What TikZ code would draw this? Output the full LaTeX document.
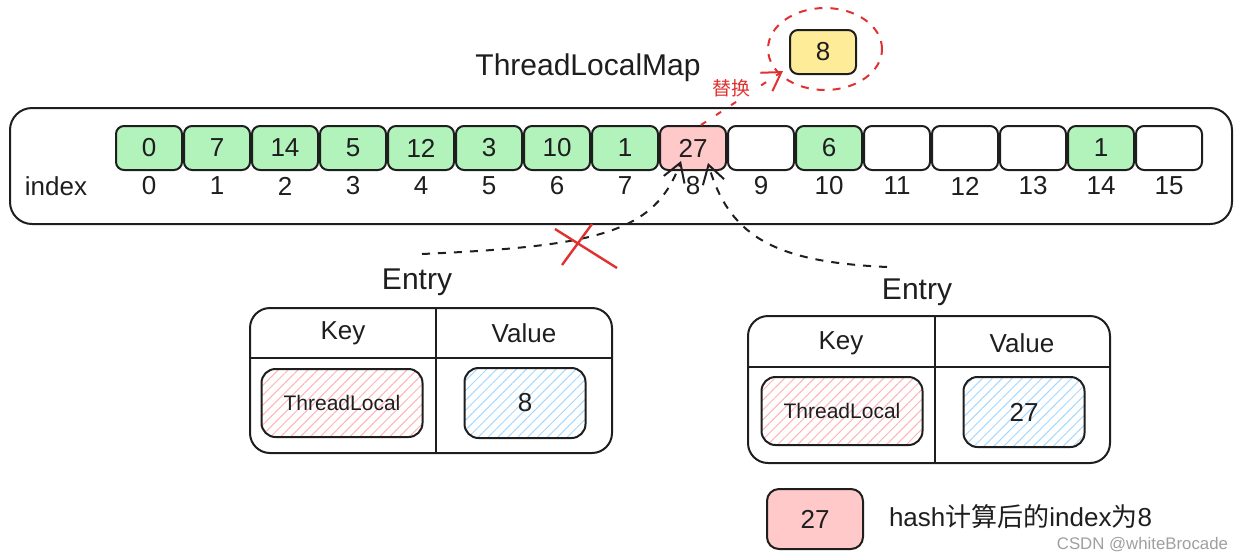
\documentclass[tikz,border=0pt]{standalone}
\usepackage{fontspec}
\setmainfont{Liberation Sans}
\newfontfamily\cjk{Noto Sans CJK SC}
\usetikzlibrary{arrows.meta,patterns.meta,shapes.geometric}
\definecolor{ink}{HTML}{1E1E1E}
\definecolor{cellgreen}{HTML}{B2F2BB}
\definecolor{cellpink}{HTML}{FFC9C9}
\definecolor{cellyellow}{HTML}{FFEC99}
\definecolor{hatchblue}{HTML}{A5D8FF}
\definecolor{hatchred}{HTML}{FFB3B3}
\definecolor{markred}{HTML}{E03131}

\begin{document}
\begin{tikzpicture}[x=0.5pt,y=-0.5pt,line width=1pt,color=ink,
  slot/.style={draw,rounded corners=4pt,minimum width=33pt,minimum height=22pt,inner sep=0pt,font=\fontsize{13}{13}\selectfont},
  lbl/.style={inner sep=1pt,font=\fontsize{13}{13}\selectfont},
  big/.style={inner sep=1pt,font=\fontsize{15}{15}\selectfont},
  keybox/.style={draw,rounded corners=7pt,minimum width=80.5pt,minimum height=34pt,
    pattern={Lines[angle=45,distance=3.5pt,line width=0.5pt]},pattern color=hatchred,font=\fontsize{10.5}{10.5}\selectfont},
  valbox/.style={keybox,minimum width=60.5pt,minimum height=35pt,pattern color=hatchblue,font=\fontsize{13}{13}\selectfont},
  barb/.style={-{Straight Barb[length=9pt,width=11pt,line width=1pt]}},
  link/.style={barb,dash pattern=on 4pt off 4pt}]
\useasboundingbox (0,0) rectangle (1243,559);

% the map with its sixteen slots
\node[draw,rounded corners=11pt,minimum width=611pt,minimum height=58pt] (map) at (621,166) {};
\node[big] (title) at (588,68) {ThreadLocalMap};
\node[lbl] (idx) at (56,186) {index};
\foreach \v/\c [count=\i from 0] in {0/cellgreen,7/cellgreen,14/cellgreen,5/cellgreen,12/cellgreen,3/cellgreen,10/cellgreen,1/cellgreen,27/cellpink,/white,6/cellgreen,/white,/white,/white,1/cellgreen,/white}
{
  \node[slot,fill=\c] (c\i) at (149+68*\i,148) {\v};
  \node[lbl] (n\i) at (149+68*\i,186) {\i};
}

% replaced value
\node[slot,fill=cellyellow] (new) at (823,52) {8};
\node[draw=markred,dash pattern=on 4pt off 4pt,ellipse,minimum width=57pt,minimum height=41pt] (ring) at (825,49) {};
\draw[markred,barb,dash pattern=on 3pt off 6pt] ([xshift=4pt]c8.north) -- ([xshift=-3pt,yshift=2pt]new.south west);
\node[fill=white,text=markred,inner sep=1pt,font=\cjk\fontsize{9.5}{9.5}\selectfont] (swap) at (731,88) {替换};

% old and new entry pointing at slot 8
\coordinate (oldtail) at (422,254);
\coordinate (newtail) at (887,267);
\draw[link] (oldtail) .. controls (600,246) and (655,232) .. ([xshift=-6pt,yshift=5pt]c8.south);
\draw[link] (newtail) .. controls (780,262) and (730,240) .. ([xshift=7.5pt,yshift=4pt]c8.south);
\draw[markred,line width=1.2pt] (555,229) -- (617,268) (592,224) -- (562,265);

% first entry
\node[big] (e1lbl) at (417,282) {Entry};
\node[draw,rounded corners=10pt,minimum width=181pt,minimum height=72.5pt] (e1) at (431,380.5) {};
\draw (436,308) -- (436,453) (250,358) -- (612,358);
\node[lbl] (e1k) at (343,333) {Key};
\node[lbl] (e1v) at (524,333) {Value};
\node[keybox] (e1key) at (342,403) {ThreadLocal};
\node[valbox] (e1val) at (525,403) {8};

% second entry
\node[big] (e2lbl) at (917,292) {Entry};
\node[draw,rounded corners=10pt,minimum width=181pt,minimum height=73.5pt] (e2) at (929,389.5) {};
\draw (935,316) -- (935,463) (748,367) -- (1110,367);
\node[lbl] (e2k) at (841,343) {Key};
\node[lbl] (e2v) at (1022,343) {Value};
\node[keybox] (e2key) at (842,411) {ThreadLocal};
\node[valbox] (e2val) at (1024,412) {27};

% legend
\node[slot,fill=cellpink,minimum width=48pt,minimum height=30pt,rounded corners=6pt] (key27) at (815,519) {27};
\node[anchor=west,inner sep=0pt,font=\fontsize{13}{13}\selectfont] (legend) at (888,517) {hash{\cjk 计算后的}index{\cjk 为}8};
\node[anchor=east,inner sep=0pt,text=gray!75,font=\fontsize{8.4}{8.4}\selectfont] (wm) at (1229,545) {CSDN @whiteBrocade};
\end{tikzpicture}
\end{document}
